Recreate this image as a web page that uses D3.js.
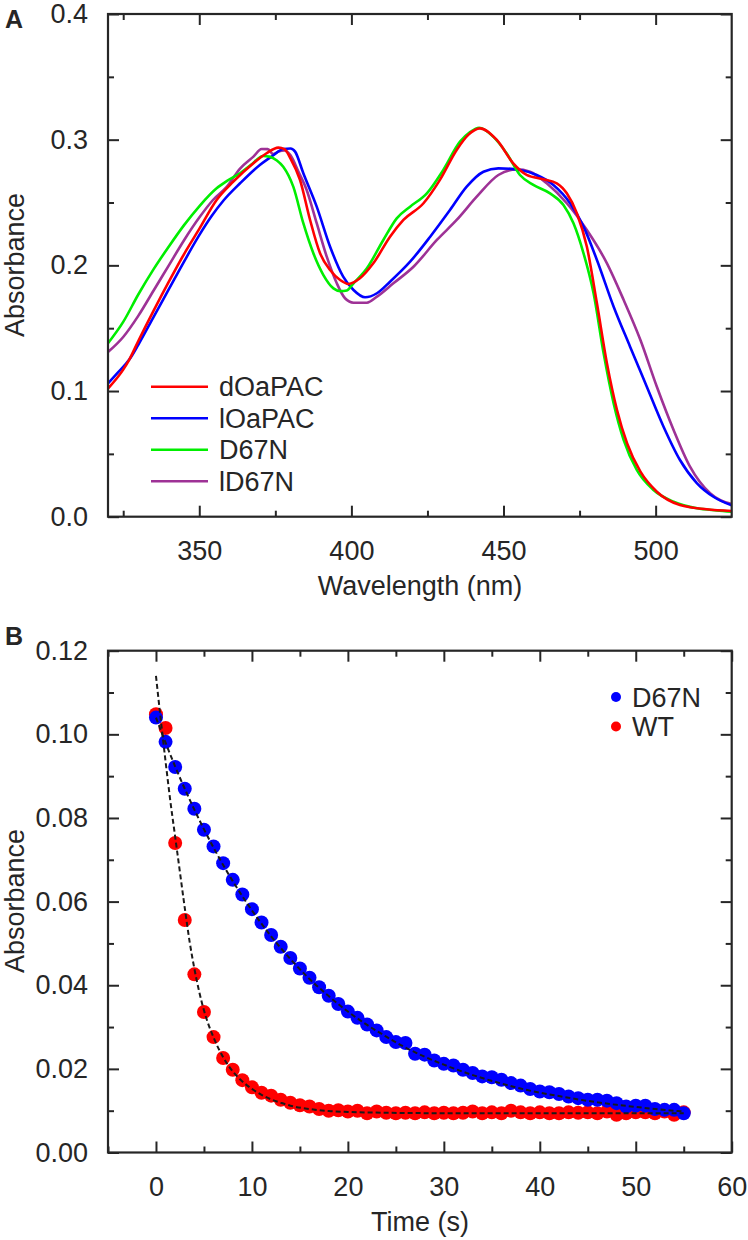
<!DOCTYPE html>
<html><head><meta charset="utf-8">
<script src="https://cdn.jsdelivr.net/npm/d3@7"></script>
<style>
body{margin:0;background:#fff}
text{font-family:"Liberation Sans",Arial,sans-serif;fill:#262626}
</style>
</head><body>
<svg id="c" width="748" height="1240"></svg>
<script>
// ---------- Panel A data: [wavelength nm, absorbance] ----------
const dOaPAC = [[320,0.102],[325,0.117],[327,0.125],[330,0.140],[335,0.164],[340,0.187],[345,0.209],[350,0.229],[355.7,0.252],[361.2,0.2666],[367.8,0.2812],[372,0.289],[376,0.2937],[378,0.2925],[380,0.285],[383.1,0.268],[386.4,0.2363],[389.7,0.2096],[393,0.1963],[396.3,0.1883],[399,0.1852],[402.8,0.1897],[407.2,0.2016],[412.7,0.2228],[417.1,0.2361],[423.7,0.2494],[429.1,0.268],[434.6,0.2918],[438.5,0.304],[442.3,0.309],[447.8,0.2998],[453.2,0.2812],[457.6,0.272],[463.1,0.2685],[467.5,0.2653],[470.8,0.2573],[474.1,0.2414],[477.4,0.2148],[480.7,0.1698],[484,0.122],[487.3,0.0849],[490.6,0.0584],[495,0.0358],[500.4,0.0199],[508,0.0093],[516.8,0.0059],[525,0.0045]];
const lOaPAC = [[320,0.106],[323,0.114],[327,0.125],[330,0.137],[335,0.159],[340,0.181],[345,0.203],[350,0.224],[354,0.239],[358.1,0.252],[363.4,0.2653],[369.9,0.2799],[374,0.287],[377.6,0.2926],[380,0.293],[381.5,0.2905],[384.2,0.2733],[388.6,0.2467],[393,0.2148],[397.3,0.191],[400.7,0.1804],[404.5,0.1746],[408.4,0.1778],[412.7,0.187],[419.3,0.2029],[425.9,0.2228],[432.4,0.244],[437.9,0.2626],[443.4,0.2745],[448.3,0.2772],[455.4,0.2759],[460.9,0.2719],[466.4,0.264],[471.9,0.2494],[476.3,0.2308],[480.7,0.2043],[486.2,0.1671],[491.6,0.1353],[497.1,0.1034],[502.6,0.0716],[508,0.0451],[513.6,0.0266],[519,0.0159],[525,0.009]];
const D67N = [[320,0.138],[325,0.155],[330,0.177],[335,0.197],[340,0.215],[345,0.232],[350,0.247],[355.7,0.2613],[359,0.267],[363.4,0.2733],[367,0.280],[371,0.287],[373,0.2865],[375.5,0.2835],[377.6,0.2785],[380.9,0.2626],[384.2,0.2335],[387.5,0.2096],[390.8,0.1923],[394.1,0.1817],[396.5,0.1795],[398.5,0.180],[400.7,0.1857],[405.1,0.1977],[410.5,0.2202],[414.9,0.2374],[419.3,0.2467],[424.8,0.2573],[430.2,0.2759],[435.7,0.2984],[439,0.306],[442,0.3095],[446.6,0.3024],[451,0.2892],[455.4,0.2719],[459.8,0.264],[465.3,0.2573],[469.7,0.248],[473,0.2335],[476.3,0.2096],[479.6,0.1778],[482.9,0.130],[486.2,0.0902],[489.5,0.061],[493.8,0.0372],[499.3,0.0212],[505.9,0.0119],[513.6,0.0067],[520,0.005],[525,0.004]];
const lD67N = [[320,0.131],[325,0.143],[330,0.160],[335,0.180],[340,0.200],[345,0.220],[350,0.238],[354.5,0.252],[359.1,0.2626],[363.4,0.277],[367.8,0.2865],[370.5,0.2926],[372.5,0.2925],[374.3,0.2885],[376,0.2905],[378,0.2915],[380,0.2875],[382.5,0.275],[385.3,0.26],[388.6,0.2335],[391.9,0.2069],[395.2,0.1857],[397.9,0.1738],[400.7,0.1703],[405.1,0.1703],[408.4,0.1751],[413.8,0.1857],[420.4,0.1989],[428.1,0.2202],[434.6,0.2361],[441.2,0.2546],[448.3,0.2719],[454.3,0.2764],[458.7,0.2745],[464.2,0.2653],[470.8,0.2494],[477.4,0.2281],[484,0.2016],[489.5,0.1724],[495,0.1406],[500.4,0.1034],[505.9,0.069],[511.3,0.0398],[517.9,0.0186],[525,0.0100]];
const seriesNamesA = ["dOaPAC","lOaPAC","D67N","lD67N"];
const seriesColorsA = ["#ff0000","#0000ff","#00ee00","#9e3296"];
const xTicksA = [350,400,450,500];
const xMinorA = [325,375,425,475];
const yTicksA = [0.0,0.1,0.2,0.3,0.4];
const yMinorA = [0.05,0.15,0.25,0.35];

// ---------- Panel B data ----------
const timeB = d3.range(0,56); // 0..55 s, one point per second
const d67nB = [0.1040,0.0982,0.0922,0.0870,0.0822,0.0772,0.0732,0.0692,0.0652,0.0617,0.0582,0.0550,0.0520,0.0492,0.0465,0.0440,0.0418,0.0395,0.0375,0.0355,0.0337,0.0322,0.0306,0.0292,0.0276,0.0264,0.0262,0.0236,0.0234,0.0220,0.0212,0.0208,0.0198,0.0190,0.0182,0.0180,0.0174,0.0166,0.0160,0.0152,0.0146,0.0144,0.0140,0.0134,0.0130,0.0126,0.0126,0.0124,0.0118,0.0110,0.0112,0.0112,0.0104,0.0102,0.0102,0.0094];
const wtB = [0.1048,0.1015,0.0740,0.0556,0.0426,0.0336,0.0276,0.0226,0.0198,0.0173,0.0156,0.0143,0.0136,0.0126,0.0119,0.0113,0.0110,0.0104,0.0100,0.0101,0.0098,0.0100,0.0094,0.0098,0.0095,0.0094,0.0095,0.0094,0.0096,0.0094,0.0095,0.0094,0.0095,0.0098,0.0094,0.0096,0.0094,0.0100,0.0096,0.0094,0.0096,0.0094,0.0094,0.0096,0.0095,0.0096,0.0094,0.0098,0.0090,0.0094,0.0096,0.0096,0.0094,0.0098,0.0090,0.0096];
// dashed fit curves
const fitWtT = [0,0.5,1,1.5,2,2.5,3,3.5,4,4.5,5,6,7,8,9,10,11,12,13,14,16,18,20,24,30,40,55];
const fitWtV = [0.114,0.1035,0.0935,0.0840,0.0755,0.0670,0.0585,0.0505,0.0440,0.0385,0.0340,0.0275,0.0228,0.0194,0.0170,0.0152,0.0138,0.0127,0.0119,0.0112,0.0104,0.0099,0.0097,0.0095,0.0094,0.0094,0.0094];
const fitD67nT = [0,2,4,6,8,10,12,14,16,18,20,22,24,26,28,30,32,34,36,38,40,42,44,46,48,50,52,54,55];
const fitD67nV = [0.1040,0.0923,0.0820,0.0729,0.0649,0.0579,0.0517,0.0463,0.0415,0.0374,0.0337,0.0305,0.0277,0.0251,0.0229,0.0210,0.0193,0.0178,0.0165,0.0153,0.0143,0.0135,0.0127,0.0120,0.0114,0.0109,0.0104,0.0100,0.0098];
const seriesNamesB = ["D67N","WT"];
const seriesColorsB = ["#0000ff","#ff0000"];
const xTicksB = [0,10,20,30,40,50,60];
const xMinorB = [-5,5,15,25,35,45,55];
const yTicksB = [0.00,0.02,0.04,0.06,0.08,0.10,0.12];
const yMinorB = [0.01,0.03,0.05,0.07,0.09,0.11];

const svg = d3.select("#c");
const INK = "#262626";
const FS = 27;

function frame(x, y, xMaj, xMin, yMaj, yMin, yFmt, xFmt) {
  const [x0,x1] = x.range(), [y0,y1] = y.range();
  const g = svg.append("g");
  const mk = (axis, tr, showLabels) => {
    const a = g.append("g").attr("transform", tr).call(axis);
    a.select(".domain").remove();
    a.selectAll("line").attr("stroke", INK).attr("stroke-width", 2);
    a.selectAll("text").attr("font-size", FS).attr("fill", INK)
      .style("font-family", '"Liberation Sans", Arial, sans-serif');
    if (!showLabels) a.selectAll("text").remove();
    return a;
  };
  mk(d3.axisBottom(x).tickValues(xMaj).tickSize(-11).tickPadding(24).tickFormat(xFmt), `translate(0,${y0})`, true);
  mk(d3.axisBottom(x).tickValues(xMin).tickSize(-6), `translate(0,${y0})`, false);
  mk(d3.axisTop(x).tickValues(xMaj).tickSize(-11), `translate(0,${y1})`, false);
  mk(d3.axisTop(x).tickValues(xMin).tickSize(-6), `translate(0,${y1})`, false);
  mk(d3.axisLeft(y).tickValues(yMaj).tickSize(-11).tickPadding(20).tickFormat(yFmt), `translate(${x0},0)`, true);
  mk(d3.axisLeft(y).tickValues(yMin).tickSize(-6), `translate(${x0},0)`, false);
  mk(d3.axisRight(y).tickValues(yMaj).tickSize(-11), `translate(${x1},0)`, false);
  mk(d3.axisRight(y).tickValues(yMin).tickSize(-6), `translate(${x1},0)`, false);
  g.append("rect").attr("x", x0).attr("y", y1).attr("width", x1 - x0).attr("height", y0 - y1)
    .attr("fill", "none").attr("stroke", INK).attr("stroke-width", 2.2);
}

// ---------- Panel A ----------
const xA = d3.scaleLinear().domain([320,525]).range([108,731.7]);
const yA = d3.scaleLinear().domain([0,0.4]).range([516.7,14]);
const seriesA = [dOaPAC, lOaPAC, D67N, lD67N];
const lineA = d3.line().x(d => xA(d[0])).y(d => yA(d[1])).curve(d3.curveMonotoneX);
svg.append("clipPath").attr("id","clipA").append("rect")
  .attr("x",108).attr("y",14).attr("width",623.7).attr("height",502.7);
const gA = svg.append("g").attr("clip-path","url(#clipA)");
[3,1,2,0].forEach(i => {
  gA.append("path").datum(seriesA[i]).attr("d", lineA)
    .attr("fill","none").attr("stroke", seriesColorsA[i]).attr("stroke-width", 2.6)
    .attr("stroke-linejoin","round");
});
frame(xA, yA, xTicksA, xMinorA, yTicksA, yMinorA, d3.format(".1f"), d3.format("d"));

// legend A
const legA = svg.append("g");
seriesNamesA.forEach((n, i) => {
  const cy = 386.7 + i * 31.5;
  legA.append("line").attr("x1",151).attr("x2",208).attr("y1",cy).attr("y2",cy)
    .attr("stroke", seriesColorsA[i]).attr("stroke-width", 2.5);
  legA.append("text").attr("x",219).attr("y",cy).attr("dy","0.36em")
    .attr("font-size",FS).text(n);
});
svg.append("text").attr("x",420).attr("y",595).attr("text-anchor","middle")
  .attr("font-size",FS).text("Wavelength (nm)");
svg.append("text").attr("transform","translate(24,265) rotate(-90)").attr("text-anchor","middle")
  .attr("font-size",FS).text("Absorbance");
svg.append("text").attr("x",5).attr("y",28).attr("font-size",25).attr("font-weight","bold")
  .style("font-family",'"Liberation Sans", Arial, sans-serif').text("A");

// ---------- Panel B ----------
const xB = d3.scaleLinear().domain([-5,60]).range([108,731.7]);
const yB = d3.scaleLinear().domain([0,0.12]).range([1152.5,650.7]);
const gB = svg.append("g");
gB.selectAll("circle.wt").data(timeB).join("circle").attr("class","wt")
  .attr("cx", (t) => xB(t)).attr("cy", (t, i) => yB(wtB[i])).attr("r", 7).attr("fill", seriesColorsB[1]);
gB.selectAll("circle.d67").data(timeB).join("circle").attr("class","d67")
  .attr("cx", (t) => xB(t)).attr("cy", (t, i) => yB(d67nB[i])).attr("r", 7).attr("fill", seriesColorsB[0]);
const fitLine = d3.line().x(d => xB(d[0])).y(d => yB(d[1])).curve(d3.curveMonotoneX);
[[fitWtT, fitWtV],[fitD67nT, fitD67nV]].forEach(([T,V]) => {
  gB.append("path").datum(T.map((t,i) => [t, V[i]])).attr("d", fitLine)
    .attr("fill","none").attr("stroke","#1a1a1a").attr("stroke-width",2).attr("stroke-dasharray","5,3");
});
frame(xB, yB, xTicksB, xMinorB, yTicksB, yMinorB, d3.format(".2f"), d3.format("d"));

// legend B
seriesNamesB.forEach((n, i) => {
  const cy = 697 + i * 29.5;
  svg.append("circle").attr("cx",616).attr("cy",cy).attr("r",5).attr("fill", seriesColorsB[i]);
  svg.append("text").attr("x",632).attr("y",cy).attr("dy","0.36em").attr("font-size",FS).text(n);
});
svg.append("text").attr("x",420).attr("y",1231).attr("text-anchor","middle")
  .attr("font-size",FS).text("Time (s)");
svg.append("text").attr("transform","translate(24,901) rotate(-90)").attr("text-anchor","middle")
  .attr("font-size",FS).text("Absorbance");
svg.append("text").attr("x",5).attr("y",645).attr("font-size",25).attr("font-weight","bold")
  .style("font-family",'"Liberation Sans", Arial, sans-serif').text("B");
</script>
</body></html>
